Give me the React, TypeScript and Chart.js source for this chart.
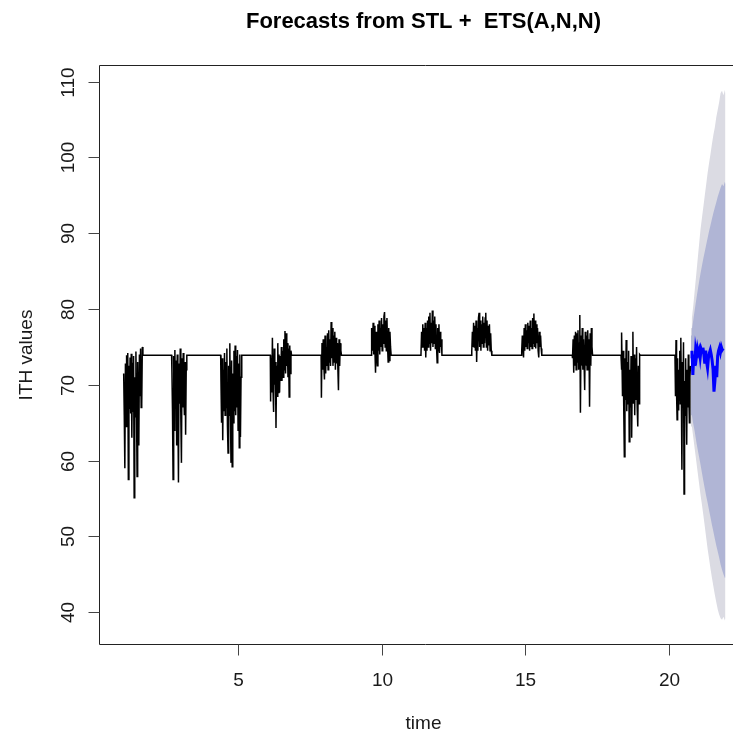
import React, { useEffect, useRef } from "react";
import { Chart, registerables } from "chart.js";

Chart.register(...registerables);

const FONT = '"Liberation Sans", Arial, sans-serif';

const titleText = "Forecasts from STL +  ETS(A,N,N)";
const xLabel = "time";
const yLabel = "ITH values";
const xTicks = [5, 10, 15, 20];
const yTicks = [40, 50, 60, 70, 80, 90, 100, 110];

const flatLevel = 73.9;
const burstStart = [1.0, 2.68, 4.39, 6.12, 7.89, 9.63, 11.36, 13.13, 14.87, 16.64, 18.34, 20.21];
const burstEnd = [1.67, 3.2, 5.11, 6.85, 8.59, 10.32, 12.09, 13.83, 15.57, 17.34, 19.0, 20.75];

const burst1 = [71.5, 66.0, 59.0, 72.8, 64.5, 73.9, 67.0, 74.2, 57.5, 72.5, 66.8, 73.6, 66.2, 74.1, 63.0, 72.9, 66.5, 73.8, 55.1, 71.0, 65.8, 74.4, 67.0, 57.9, 73.0, 66.2, 62.0, 74.0, 68.5, 74.8, 67.0, 67.4, 75.0, 73.9];
const burst2 = [72.0, 66.5, 57.5, 73.8, 64.0, 74.6, 67.5, 73.2, 62.0, 74.0, 67.0, 57.1, 72.8, 67.5, 74.8, 65.5, 59.7, 73.5, 67.0, 74.2, 68.5, 66.0, 73.0, 63.4, 72.0, 73.9];
const burst3 = [70.5, 65.0, 73.5, 62.7, 72.0, 66.5, 74.2, 66.0, 73.0, 67.0, 74.8, 64.5, 61.0, 72.5, 66.0, 75.5, 66.5, 59.7, 73.2, 59.2, 71.5, 65.0, 74.5, 66.5, 75.2, 66.0, 73.8, 67.0, 74.6, 64.0, 72.8, 61.7, 74.0, 63.1, 71.0, 73.9];
const burst4 = [67.8, 73.5, 69.0, 76.2, 69.5, 66.4, 74.8, 70.0, 73.0, 64.3, 72.5, 68.5, 75.5, 69.0, 74.0, 69.0, 73.8, 70.5, 75.0, 70.5, 74.5, 71.0, 76.0, 72.0, 77.1, 71.5, 76.8, 72.5, 75.5, 71.0, 74.8, 68.4, 75.2, 71.5, 74.5, 73.9];
const burst5 = [68.3, 75.5, 72.0, 76.0, 72.5, 70.7, 76.5, 71.5, 75.0, 72.5, 76.8, 72.0, 77.2, 73.0, 76.0, 72.5, 78.3, 73.5, 77.5, 72.5, 76.5, 73.0, 77.0, 72.0, 76.2, 72.8, 75.5, 72.3, 69.3, 76.0, 72.5, 75.5, 74.5, 73.9];
const burst6 = [74.0, 77.5, 74.5, 78.2, 74.0, 77.8, 74.5, 71.6, 77.0, 74.2, 72.5, 78.0, 74.5, 78.5, 74.0, 77.5, 75.0, 78.8, 74.5, 78.0, 75.5, 79.0, 79.6, 75.0, 78.5, 74.5, 78.8, 75.2, 73.0, 77.5, 73.2, 77.0, 75.0, 73.9];
const burst7 = [74.0, 77.0, 75.0, 78.0, 75.0, 77.5, 74.5, 78.2, 73.6, 77.5, 74.5, 78.5, 75.0, 79.0, 75.5, 79.5, 74.5, 78.2, 75.5, 79.8, 75.0, 78.5, 75.5, 79.0, 74.8, 78.0, 75.0, 72.9, 77.5, 74.5, 78.0, 74.2, 77.0, 75.0, 76.0, 73.9];
const burst8 = [74.5, 77.0, 75.0, 78.2, 75.0, 77.8, 74.5, 78.5, 73.0, 77.5, 74.5, 78.8, 79.5, 75.0, 78.5, 74.5, 78.0, 75.5, 79.0, 75.0, 78.2, 75.5, 78.8, 79.5, 75.0, 78.5, 74.5, 77.8, 75.2, 78.0, 74.5, 76.8, 74.5, 73.9];
const burst9 = [74.5, 76.5, 75.0, 73.6, 77.5, 74.5, 78.0, 75.0, 77.2, 74.8, 78.2, 75.5, 77.8, 74.5, 78.5, 75.0, 77.5, 74.8, 78.8, 75.5, 79.4, 75.0, 78.5, 74.8, 78.0, 75.5, 77.5, 74.5, 73.6, 77.0, 75.0, 76.5, 74.8, 73.9];
const burst10 = [73.5, 76.0, 71.6, 76.5, 72.5, 77.0, 72.0, 76.8, 73.0, 77.2, 72.0, 75.5, 79.2, 66.3, 76.5, 72.5, 77.5, 72.0, 76.0, 73.0, 69.3, 77.0, 72.5, 76.5, 72.0, 77.2, 73.5, 76.0, 67.1, 76.8, 72.5, 77.5, 75.0, 73.9];
const burst11 = [72.0, 76.9, 68.5, 74.5, 67.0, 60.5, 73.5, 68.0, 75.9, 66.5, 73.0, 67.5, 74.5, 62.5, 72.0, 67.0, 73.8, 63.0, 71.5, 77.0, 67.5, 74.0, 66.0, 73.5, 68.0, 75.0, 67.0, 64.5, 72.5, 67.5, 74.0, 73.9];
const burst12 = [74.0, 68.5, 75.9, 69.0, 65.4, 73.5, 66.7, 72.0, 68.0, 74.5, 67.5, 76.2, 68.5, 58.8, 73.0, 67.5, 75.6, 55.6, 70.5, 66.0, 73.5, 67.5, 62.1, 72.0, 67.0, 74.0, 68.5, 65.0, 71.0, 72.5];
const bursts = [burst1, burst2, burst3, burst4, burst5, burst6, burst7, burst8, burst9, burst10, burst11, burst12];

const forecastStart = 20.77;
const forecastEnd = 21.89;
const forecastValues = [73.5, 74.5, 71.3, 74.0, 72.5, 74.6, 73.8, 74.8, 74.2, 74.6, 73.6, 74.7, 74.3, 74.9, 74.0, 72.8, 74.5, 73.0, 72.2, 73.6, 74.2, 74.6, 74.0, 73.2, 72.0, 69.1, 70.5, 72.5, 71.0, 73.8, 74.5, 74.9, 74.3, 75.0, 74.6, 74.8];

const fanTimes = [20.77, 20.8, 20.85, 20.9, 20.95, 21.0, 21.05, 21.1, 21.15, 21.2, 21.25, 21.3, 21.35, 21.4, 21.45, 21.5, 21.55, 21.6, 21.65, 21.7, 21.75, 21.8, 21.85, 21.9, 21.95, 21.97];
const fan95Hi = [77.5, 78.8, 80.5, 82.5, 84.5, 86.5, 88.5, 90.5, 92.0, 93.5, 95.0, 96.5, 98.0, 99.3, 100.5, 101.8, 103.0, 104.0, 105.3, 106.3, 107.3, 108.5, 108.8, 108.2, 108.9, 108.4];
const fan95Lo = [66.0, 64.5, 63.0, 61.5, 60.0, 58.5, 57.0, 55.5, 54.2, 52.8, 51.3, 49.8, 48.3, 47.0, 45.7, 44.5, 43.4, 42.3, 41.3, 40.4, 39.7, 39.2, 39.0, 39.4, 38.9, 39.2];
const fan80Hi = [76.5, 77.3, 78.6, 79.9, 81.2, 82.4, 83.6, 84.7, 85.7, 86.7, 87.6, 88.5, 89.4, 90.3, 91.1, 91.9, 92.7, 93.4, 94.1, 94.8, 95.4, 96.0, 96.5, 96.2, 96.8, 96.5];
const fan80Lo = [67.5, 66.0, 64.8, 63.8, 62.6, 61.5, 60.5, 59.5, 58.4, 57.3, 56.3, 55.3, 54.4, 53.4, 52.5, 51.5, 50.6, 49.7, 48.8, 48.0, 47.2, 46.3, 45.6, 45.0, 44.5, 44.6];

const xMin = 0.14;
const xMax = 22.86;
const yMin = 35.8;
const yMax = 112.2;

function buildSeries() {
  const pts: { x: number; y: number }[] = [];
  bursts.forEach((vals, i) => {
    const s = burstStart[i];
    const e = burstEnd[i];
    const n = vals.length;
    vals.forEach((v, j) => pts.push({ x: s + ((e - s) * j) / (n - 1), y: v }));
    if (i < bursts.length - 1) {
      pts.push({ x: e + 0.01, y: flatLevel });
      pts.push({ x: burstStart[i + 1] - 0.01, y: flatLevel });
    }
  });
  return pts;
}

function buildForecast() {
  const n = forecastValues.length;
  return forecastValues.map((v, j) => ({ x: forecastStart + ((forecastEnd - forecastStart) * j) / (n - 1), y: v }));
}

const band = (vals: number[]) => vals.map((v, i) => ({ x: fanTimes[i], y: v }));

const rPlot = {
  id: "rPlot",
  afterDraw(chart: any) {
    const { ctx, chartArea: a, scales } = chart;
    const xs = scales.x;
    const ys = scales.y;
    ctx.save();
    ctx.strokeStyle = "#222";
    ctx.lineWidth = 1;
    const L = Math.round(a.left) + 0.5;
    const T = Math.round(a.top) + 0.5;
    const R = Math.round(a.right) + 0.5;
    const B = Math.round(a.bottom) + 0.5;
    ctx.beginPath();
    ctx.moveTo(L, T);
    ctx.lineTo(R, T);
    ctx.lineTo(R, B);
    ctx.lineTo(L, B);
    ctx.closePath();
    ctx.stroke();

    ctx.fillStyle = "#1a1a1a";
    ctx.font = `19px ${FONT}`;
    ctx.strokeStyle = "#444";
    for (const v of yTicks) {
      const y = Math.round(ys.getPixelForValue(v)) + 0.5;
      ctx.beginPath();
      ctx.moveTo(L - 11, y);
      ctx.lineTo(L, y);
      ctx.stroke();
      ctx.save();
      ctx.translate(73.5, y);
      ctx.rotate(-Math.PI / 2);
      ctx.textAlign = "center";
      ctx.textBaseline = "alphabetic";
      ctx.fillText(String(v), 0, 0);
      ctx.restore();
    }
    for (const v of xTicks) {
      const x = Math.round(xs.getPixelForValue(v)) + 0.5;
      ctx.beginPath();
      ctx.moveTo(x, B);
      ctx.lineTo(x, B + 11);
      ctx.stroke();
      ctx.textAlign = "center";
      ctx.textBaseline = "alphabetic";
      ctx.fillText(String(v), x, 686);
    }
    ctx.textAlign = "center";
    ctx.textBaseline = "alphabetic";
    ctx.fillText(xLabel, 423.5, 729);

    ctx.save();
    ctx.translate(31.5, 355);
    ctx.rotate(-Math.PI / 2);
    ctx.fillText(yLabel, 0, 0);
    ctx.restore();

    ctx.fillStyle = "#000";
    ctx.font = `bold 22px ${FONT}`;
    ctx.fillText(titleText, 423.5, 28);
    ctx.restore();
  },
};

export default function App() {
  const ref = useRef<HTMLCanvasElement | null>(null);
  useEffect(() => {
    if (!ref.current) return;
    const base = { pointRadius: 0, tension: 0, fill: false as any };
    const chart = new Chart(ref.current, {
      type: "line",
      data: {
        datasets: [
          { ...base, data: band(fan95Lo), borderWidth: 0, borderColor: "rgba(0,0,0,0)", order: 6 },
          { ...base, data: band(fan95Hi), borderWidth: 0, borderColor: "rgba(0,0,0,0)", fill: "-1", backgroundColor: "#DBDBE3", order: 5 },
          { ...base, data: band(fan80Lo), borderWidth: 0, borderColor: "rgba(0,0,0,0)", order: 4 },
          { ...base, data: band(fan80Hi), borderWidth: 0, borderColor: "rgba(0,0,0,0)", fill: "-1", backgroundColor: "#B0B5D5", order: 3 },
          { ...base, data: buildSeries(), borderWidth: 1.5, borderColor: "#000", order: 2 },
          { ...base, data: buildForecast(), borderWidth: 3, borderColor: "#0000FF", order: 1 },
        ],
      },
      options: {
        animation: false,
        responsive: false,
        maintainAspectRatio: false,
        layout: { padding: { left: 99, top: 65, right: 19, bottom: 93 } },
        scales: {
          x: { type: "linear", min: xMin, max: xMax, display: false },
          y: { type: "linear", min: yMin, max: yMax, display: false },
        },
        plugins: { legend: { display: false }, tooltip: { enabled: false } },
      },
      plugins: [rPlot],
    });
    return () => chart.destroy();
  }, []);
  return (
    <div style={{ position: "fixed", left: 0, top: 0, width: 733, height: 737, overflow: "hidden", background: "#fff" }}>
      <canvas ref={ref} width={770} height={737} style={{ display: "block" }} />
    </div>
  );
}
